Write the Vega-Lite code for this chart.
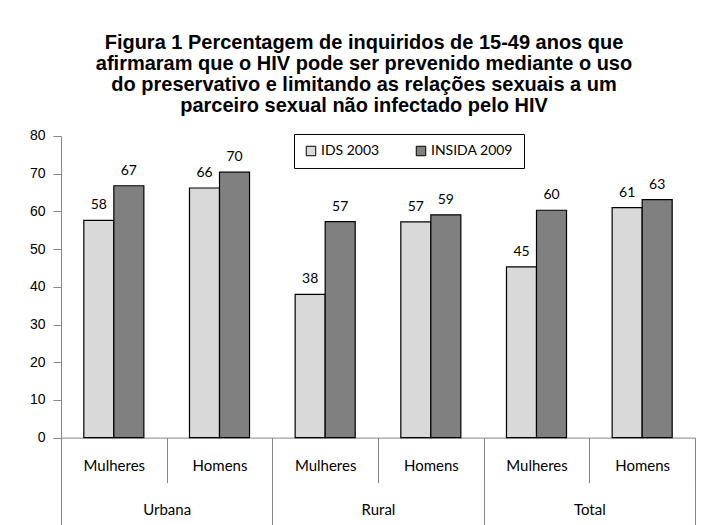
{
  "$schema": "https://vega.github.io/schema/vega-lite/v6.json",
  "width": 634,
  "height": 301.6,
  "padding": {"left": 29, "top": 33, "right": 8, "bottom": 0},
  "background": "white",
  "title": {
    "text": ["Figura 1  Percentagem de inquiridos de 15-49 anos que", "afirmaram que o HIV pode ser prevenido mediante o uso", "do preservativo e limitando as relações sexuais a um", "parceiro sexual não infectado pelo HIV"],
    "font": "Liberation Sans",
    "fontSize": 20,
    "fontWeight": "bold",
    "lineHeight": 21,
    "color": "black",
    "anchor": "middle",
    "dx": -14,
    "offset": 13
  },
  "config": {
    "view": {"stroke": null},
    "axis": {"grid": false, "domainColor": "#868686", "tickColor": "#868686", "labelColor": "black"}
  },
  "data": {
    "values": [
      {"cat": "Urbana|Mulheres", "group": "Urbana", "series": "IDS 2003", "value": 57.6},
      {"cat": "Urbana|Mulheres", "group": "Urbana", "series": "INSIDA 2009", "value": 66.8},
      {"cat": "Urbana|Homens", "group": "Urbana", "series": "IDS 2003", "value": 66.2},
      {"cat": "Urbana|Homens", "group": "Urbana", "series": "INSIDA 2009", "value": 70.4},
      {"cat": "Rural|Mulheres", "group": "Rural", "series": "IDS 2003", "value": 38.0},
      {"cat": "Rural|Mulheres", "group": "Rural", "series": "INSIDA 2009", "value": 57.3},
      {"cat": "Rural|Homens", "group": "Rural", "series": "IDS 2003", "value": 57.2},
      {"cat": "Rural|Homens", "group": "Rural", "series": "INSIDA 2009", "value": 59.1},
      {"cat": "Total|Mulheres", "group": "Total", "series": "IDS 2003", "value": 45.3},
      {"cat": "Total|Mulheres", "group": "Total", "series": "INSIDA 2009", "value": 60.3},
      {"cat": "Total|Homens", "group": "Total", "series": "IDS 2003", "value": 61.0},
      {"cat": "Total|Homens", "group": "Total", "series": "INSIDA 2009", "value": 63.1}
    ]
  },
  "layer": [
    {
      "layer": [
        {
          "mark": {"type": "bar", "stroke": "black", "strokeWidth": 1.2},
          "encoding": {
            "fill": {
              "field": "series",
              "type": "nominal",
              "scale": {"range": ["#d9d9d9", "#808080"]},
              "legend": {
                "orient": "none",
                "legendX": 233,
                "legendY": -2,
                "direction": "horizontal",
                "title": null,
                "strokeColor": "black",
                "padding": 10,
                "symbolType": "square",
                "symbolSize": 90,
                "symbolStrokeColor": "black",
                "symbolStrokeWidth": 1,
                "labelFont": "Lato",
                "labelFontSize": 14,
                "labelColor": "black",
                "columnPadding": 34,
                "labelOffset": 3
              }
            }
          }
        },
        {
          "mark": {"type": "text", "baseline": "alphabetic", "dy": -11, "font": "Lato", "fontSize": 14, "color": "black"},
          "encoding": {
            "text": {"field": "value", "type": "quantitative", "format": ".0f"}
          }
        }
      ],
      "encoding": {
        "x": {
          "field": "cat",
          "type": "nominal",
          "sort": null,
          "scale": {"paddingInner": 0, "paddingOuter": 0},
          "axis": {
            "orient": "bottom",
            "title": null,
            "labelAngle": 0,
            "tickBand": "extent",
            "tickSize": 45,
            "labelPadding": -17,
            "labelBaseline": "middle",
            "labelFont": "Lato",
            "labelFontSize": 15,
            "labelExpr": "split(datum.label, '|')[1]"
          }
        },
        "xOffset": {
          "field": "series",
          "type": "nominal",
          "scale": {"paddingOuter": 0.76, "paddingInner": 0}
        },
        "y": {
          "field": "value",
          "type": "quantitative",
          "scale": {"domain": [0, 80]},
          "axis": {
            "title": null,
            "values": [0, 10, 20, 30, 40, 50, 60, 70, 80],
            "tickSize": 8,
            "labelPadding": 8,
            "labelFont": "Liberation Sans",
            "labelFontSize": 14
          }
        }
      }
    },
    {
      "mark": {"type": "rule", "opacity": 0},
      "encoding": {
        "x": {
          "field": "group",
          "type": "nominal",
          "sort": null,
          "scale": {"paddingInner": 0, "paddingOuter": 0},
          "axis": {
            "orient": "bottom",
            "title": null,
            "labelAngle": 0,
            "domain": false,
            "tickBand": "extent",
            "tickSize": 90,
            "labelPadding": -18,
            "labelBaseline": "middle",
            "labelFont": "Lato",
            "labelFontSize": 15
          }
        }
      }
    }
  ],
  "resolve": {"scale": {"x": "independent"}, "axis": {"x": "independent"}}
}
